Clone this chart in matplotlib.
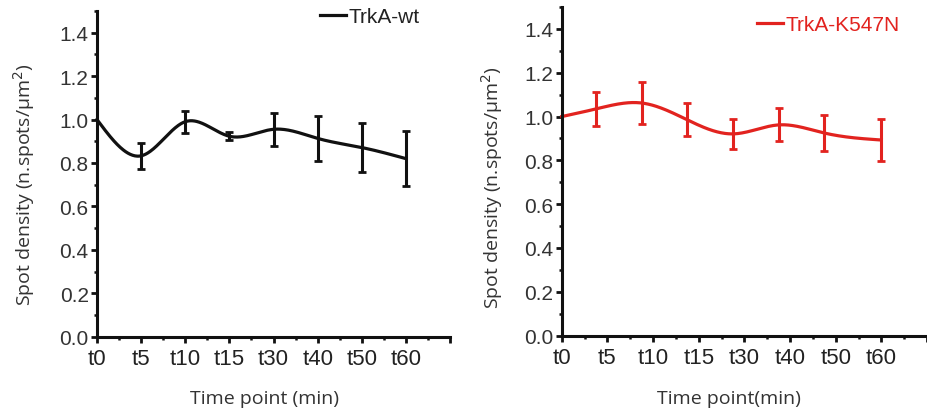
import numpy as np
import matplotlib
matplotlib.use('Agg')
import matplotlib.pyplot as plt
from matplotlib.ticker import MultipleLocator

# tick labels shared by both panels
time_labels = ['t0', 't5', 't10', 't15', 't30', 't40', 't50', 't60']

# TrkA-wt (left panel)
wt_x = [0, 1, 2, 3, 4, 5, 6, 7]
wt_mean = [1.0, 0.833, 0.99, 0.923, 0.955, 0.913, 0.871, 0.82]
wt_err = [0.0, 0.06, 0.05, 0.019, 0.077, 0.105, 0.113, 0.125]

# TrkA-K547N (right panel), points sit slightly off the tick positions
mut_x = [0, 0.75, 1.75, 2.75, 3.75, 4.75, 5.75, 7]
mut_mean = [1.0, 1.035, 1.062, 0.985, 0.921, 0.962, 0.925, 0.893]
mut_err = [0.0, 0.077, 0.095, 0.075, 0.068, 0.075, 0.082, 0.095]

RED = '#e2231f'


def natural_spline(x, y, n=400):
    # natural cubic spline through the data points (smooth connecting line)
    x = np.asarray(x, float)
    y = np.asarray(y, float)
    m = len(x)
    h = np.diff(x)
    A = np.zeros((m, m))
    b = np.zeros(m)
    A[0, 0] = 1
    A[-1, -1] = 1
    for i in range(1, m - 1):
        A[i, i - 1] = h[i - 1]
        A[i, i] = 2 * (h[i - 1] + h[i])
        A[i, i + 1] = h[i]
        b[i] = 6 * ((y[i + 1] - y[i]) / h[i] - (y[i] - y[i - 1]) / h[i - 1])
    M = np.linalg.solve(A, b)
    xs = np.linspace(x[0], x[-1], n)
    idx = np.clip(np.searchsorted(x, xs) - 1, 0, m - 2)
    x0, x1 = x[idx], x[idx + 1]
    hh = x1 - x0
    t0 = x1 - xs
    t1 = xs - x0
    ys = (M[idx] * t0 ** 3 / (6 * hh) + M[idx + 1] * t1 ** 3 / (6 * hh)
          + (y[idx] / hh - M[idx] * hh / 6) * t0
          + (y[idx + 1] / hh - M[idx + 1] * hh / 6) * t1)
    return xs, ys


def style_axes(ax, xlabel, ylab_pos, xlab_pos):
    ax.set_xlim(0, 8)
    ax.set_ylim(0, 1.5)
    ax.set_xticks(range(9))
    ax.set_xticklabels(time_labels + [''])
    ax.xaxis.set_minor_locator(MultipleLocator(0.5))
    ax.set_yticks(np.arange(0, 1.41, 0.2))
    ax.set_yticklabels(['%.1f' % v for v in np.arange(0, 1.41, 0.2)])
    ax.yaxis.set_minor_locator(MultipleLocator(0.1))
    for s in ['top', 'right']:
        ax.spines[s].set_visible(False)
    for s in ['left', 'bottom']:
        ax.spines[s].set_linewidth(2.2)
        ax.spines[s].set_color('#111111')
    ax.tick_params(which='major', direction='out', length=4, width=2,
                   color='#111111')
    ax.tick_params(which='minor', direction='out', length=2.5, width=1.8,
                   color='#111111')
    ax.tick_params(axis='y', labelsize=15, labelcolor='#333333', pad=2)
    ax.tick_params(axis='x', labelsize=16, labelcolor='#222222', pad=4)
    for lab in ax.get_xticklabels() + ax.get_yticklabels():
        lab.set_fontfamily('Liberation Sans')
    ax.set_ylabel('Spot density (n.spots/\u03bcm$^2$)', fontsize=14,
                  family='Open Sans', color='#333333')
    ax.set_xlabel(xlabel, fontsize=14, family='Open Sans', color='#333333')
    ax.yaxis.set_label_coords(*ylab_pos)
    ax.xaxis.set_label_coords(*xlab_pos)


fig = plt.figure(figsize=(9.27, 4.14), dpi=100)
ax1 = fig.add_axes([0.1046, 0.1836, 0.381, 0.788])
ax2 = fig.add_axes([0.606, 0.187, 0.394, 0.7935])

# left panel
xs, ys = natural_spline(wt_x, wt_mean)
ax1.plot(xs, ys, color='#111111', lw=2.3, label='TrkA-wt', clip_on=False)
ax1.errorbar(wt_x[1:], wt_mean[1:], yerr=wt_err[1:], fmt='none',
             ecolor='#111111', elinewidth=2.2, capsize=2.8, capthick=2)
style_axes(ax1, 'Time point (min)', (-0.17, 0.47), (0.475, -0.16))
leg1 = ax1.legend(loc='upper left', frameon=False, handlelength=1.25,
                  handletextpad=0.1, borderaxespad=0.0, borderpad=0.0,
                  bbox_to_anchor=(0.632, 1.01),
                  prop={'family': 'Liberation Sans', 'size': 15})
for t in leg1.get_texts():
    t.set_color('#222222')

# right panel
xs, ys = natural_spline(mut_x, mut_mean)
ax2.plot(xs, ys, color=RED, lw=2.3, label='TrkA-K547N', clip_on=False)
ax2.errorbar(mut_x[1:], mut_mean[1:], yerr=mut_err[1:], fmt='none',
             ecolor=RED, elinewidth=2.2, capsize=2.8, capthick=2)
style_axes(ax2, 'Time point(min)', (-0.155, 0.455), (0.458, -0.163))
leg2 = ax2.legend(loc='upper left', frameon=False, handlelength=1.25,
                  handletextpad=0.1, borderaxespad=0.0, borderpad=0.0,
                  bbox_to_anchor=(0.535, 0.975),
                  prop={'family': 'Liberation Sans', 'size': 15})
for t in leg2.get_texts():
    t.set_color(RED)

fig.savefig('out.png', dpi=100)
